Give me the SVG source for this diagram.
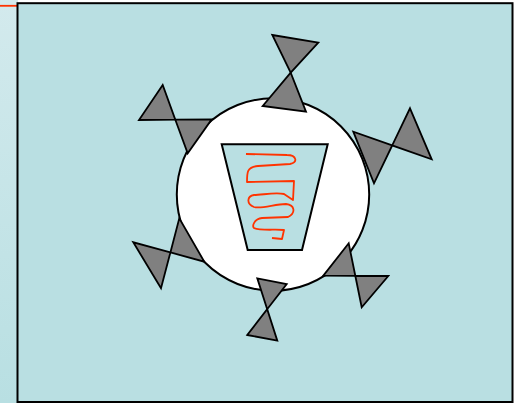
<svg xmlns="http://www.w3.org/2000/svg" width="514" height="403" viewBox="0 0 514 403">
<defs>
<linearGradient id="strip" x1="0" y1="0" x2="0" y2="1">
<stop offset="0" stop-color="#d3eaed"/>
<stop offset="1" stop-color="#b8dfe2"/>
</linearGradient>
<style>
.tri{fill:#808080;stroke:#000;stroke-width:1.8;stroke-linejoin:miter}
.bg{fill:#b9dfe2;stroke:#000;stroke-width:2}
</style>
</defs>
<rect x="0" y="0" width="18" height="403" fill="url(#strip)"/>
<line x1="0" y1="5.8" x2="17" y2="5.8" stroke="#ff3300" stroke-width="1.8"/>
<rect class="bg" x="17.5" y="3.2" width="495" height="398.8"/>
<g id="cell">
<circle cx="273" cy="194.5" r="96.2" fill="#fff" stroke="#000" stroke-width="2"/>
</g>
<g id="bowtie-top">
<polygon class="tri" points="272.3,35 318.3,42.7 290.7,72.7"/>
<polygon class="tri" points="290.7,72.7 262.7,106 306,111.7"/>
</g>
<g id="bowtie-upper-left">
<polygon class="tri" points="162.7,85 139,120 175.3,119.7"/>
<polygon class="tri" points="175.3,119.7 211.7,119.3 187.7,153.3"/>
</g>
<g id="bowtie-right">
<polygon class="tri" points="410,108.3 431.7,159.3 392.2,145.4"/>
<polygon class="tri" points="392.2,145.4 353.3,131.7 374,183.3"/>
</g>
<g id="bowtie-lower-left">
<polygon class="tri" points="133.3,242.3 161,288.3 170.4,252.4"/>
<polygon class="tri" points="170.4,252.4 179.3,218.3 204.3,261.7"/>
</g>
<g id="bowtie-lower-right">
<polygon class="tri" points="388.3,276 361.7,307.3 355.3,275.8"/>
<polygon class="tri" points="355.3,275.8 348.7,243.3 323.3,275.7"/>
</g>
<g id="bowtie-bottom">
<polygon class="tri" points="247.3,335 277.3,340.7 267.2,309.2"/>
<polygon class="tri" points="267.2,309.2 257.3,278.3 286.7,284"/>
</g>
<g id="vessel">
<polygon points="221.7,144.3 327.7,144.3 302,250 247.7,250" fill="#b9dfe2" stroke="#000" stroke-width="2"/>
<path d="M246,154 L287,155 C297,155 298,163 290,164 L258,166 C247,167 247,172 247,182 L294,181 L293,200 L284,194 C275,192 262,195 254,195 C247,196 246,204 254,207 C262,209 275,204 286,204 C295,205 296,213 288,217 L262,218 C254,219 252,226 254,228 C260,231 275,229 284,230 L282,239 L272,238" fill="none" stroke="#ff3300" stroke-width="1.8" stroke-linejoin="round"/>
</g>
</svg>
